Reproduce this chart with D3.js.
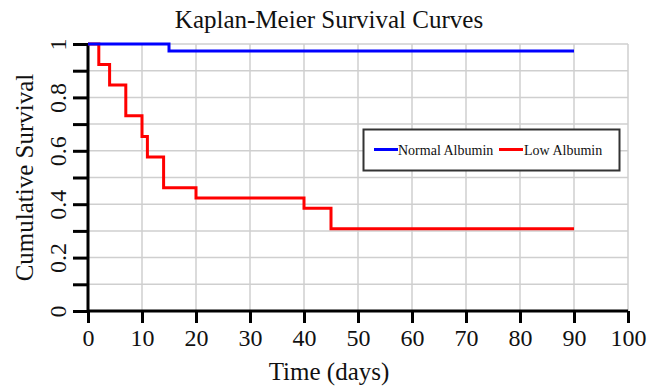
<!DOCTYPE html>
<html><head><meta charset="utf-8">
<script src="https://cdn.jsdelivr.net/npm/d3@7"></script>
<style>body{margin:0;background:#fff}svg{display:block}
svg text{font-family:'Liberation Serif','Times New Roman',serif !important;fill:#111}</style>
</head><body>
<svg id="c" width="658" height="387"></svg>
<script>
const title = "Kaplan-Meier Survival Curves";
const xTitle = "Time (days)";
const yTitle = "Cumulative Survival";
const seriesNames = ["Normal Albumin", "Low Albumin"];
const seriesColors = ["#0000ff", "#ff0000"];
// step points: [time, survival]
const normalTimes = [0, 15, 90];
const normalSurv  = [1, 0.974, 0.974];
const lowTimes = [0, 2, 4, 7, 10, 11, 14, 20, 40, 45, 90];
const lowSurv  = [1, 0.923, 0.846, 0.731, 0.654, 0.577, 0.462, 0.423, 0.385, 0.308, 0.308];
const xTicks = [0,10,20,30,40,50,60,70,80,90,100];
const yTicks = [0,0.2,0.4,0.6,0.8,1];
const yMinor = [0,0.1,0.2,0.3,0.4,0.5,0.6,0.7,0.8,0.9,1];

const svg = d3.select("#c");
const x = d3.scaleLinear().domain([0,100]).range([88,628]);
const y = d3.scaleLinear().domain([0,1]).range([311,44]);
const font = "'Liberation Serif','Times New Roman',serif";

// grid
svg.append("g").selectAll("line").data(xTicks.slice(1)).join("line")
  .attr("x1", d=>x(d)).attr("x2", d=>x(d)).attr("y1", y(0)).attr("y2", y(1))
  .attr("stroke", "#cfcfcf").attr("stroke-width", 1.5);
svg.append("g").selectAll("line").data(yMinor.slice(1)).join("line")
  .attr("x1", x(0)).attr("x2", x(100)).attr("y1", d=>y(d)).attr("y2", d=>y(d))
  .attr("stroke", "#cfcfcf").attr("stroke-width", 1.5);

// axes
const xAxis = svg.append("g").attr("transform", `translate(0,${y(0)})`)
  .call(d3.axisBottom(x).tickValues(xTicks).tickSize(12).tickPadding(6).tickFormat(d3.format("d")));
const yAxis = svg.append("g").attr("transform", `translate(${x(0)},0)`)
  .call(d3.axisLeft(y).tickValues(yMinor).tickSize(15).tickPadding(5)
    .tickFormat(d => yTicks.some(t => Math.abs(t-d)<1e-9) ? (d===0?"0":d===1?"1":d3.format(".1f")(d)) : ""));
[xAxis, yAxis].forEach(a => {
  a.attr("font-family", font).attr("font-size", 24);
  a.select(".domain").attr("stroke", "#000").attr("stroke-width", 3);
  a.selectAll(".tick line").attr("stroke", "#000").attr("stroke-width", 3);
  a.selectAll(".tick text").style("font-family", font).style("font-size", "24px").attr("fill", "#111");
});
xAxis.select(".domain").attr("d", `M${x(0)},0H${x(100)}`);
yAxis.select(".domain").attr("d", `M0,${y(0)}V${y(1)}`);
yAxis.selectAll(".tick text")
  .attr("transform", "rotate(-90)")
  .attr("x", 0).attr("y", -22).attr("dy", 0)
  .attr("text-anchor", "middle");

// curves
const line = d3.line().x(d=>x(d[0])).y(d=>y(d[1])).curve(d3.curveStepAfter);
const normalData = normalTimes.map((t,i)=>[t, normalSurv[i]]);
const lowData = lowTimes.map((t,i)=>[t, lowSurv[i]]);
svg.append("path").datum(lowData).attr("d", line).attr("fill","none")
  .attr("stroke", seriesColors[1]).attr("stroke-width", 3);
svg.append("path").datum(normalData).attr("d", line).attr("fill","none")
  .attr("stroke", seriesColors[0]).attr("stroke-width", 3);

// titles
svg.append("text").attr("x", 329).attr("y", 28).attr("text-anchor","middle")
  .style("font-size", "25px").text(title);
svg.append("text").attr("x", 329).attr("y", 380).attr("text-anchor","middle")
  .style("font-size", "25px").text(xTitle);
svg.append("text").attr("transform", `translate(33,${(y(0)+y(1))/2}) rotate(-90)`)
  .attr("text-anchor","middle")
  .style("font-size", "25px").text(yTitle);

// legend
const lg = svg.append("g");
lg.append("rect").attr("x", 363.5).attr("y", 129.5).attr("width", 256).attr("height", 41)
  .attr("fill", "#fff").attr("stroke", "#333").attr("stroke-width", 2);
const items = [{x1:374, x2:398, tx:398}, {x1:499, x2:523, tx:524}];
seriesNames.forEach((n,i) => {
  lg.append("line").attr("x1", items[i].x1).attr("x2", items[i].x2).attr("y1", 149.5).attr("y2", 149.5)
    .attr("stroke", seriesColors[i]).attr("stroke-width", 3);
  lg.append("text").attr("x", items[i].tx).attr("y", 154.5)
    .style("font-size", "14px").text(n);
});
</script>
</body></html>
